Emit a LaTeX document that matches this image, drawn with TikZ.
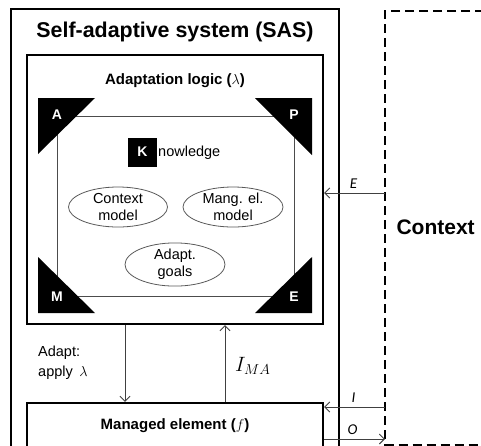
\documentclass[tikz,border=0pt]{standalone}
\usepackage{fontspec}
\setmainfont{Liberation Sans}
\newfontfamily\carlfont{Carlito}
\usetikzlibrary{arrows.meta,shapes.geometric}
\begin{document}
\begin{tikzpicture}[x=1pt,y=-1pt,
  thickbox/.style={draw, line width=2.3pt, inner sep=0pt},
  thinbox/.style={draw=black!70, line width=0.9pt, inner sep=0pt},
  ell/.style={draw=black!65, line width=0.8pt, ellipse, inner sep=0pt, align=center, font=\fontsize{14.5}{17}\selectfont},
  arr/.style={draw=black!75, line width=0.9pt, -{Straight Barb[length=5pt,width=10pt]}},
  tri/.style={fill=black},
  corner/.style={text=white, font=\fontsize{14}{16}\selectfont\bfseries},
  lbl/.style={font=\fontsize{15}{17}\selectfont\carlfont\itshape},
  ctxline/.style={draw, line width=2pt, dash pattern=on 9pt off 5pt}
]
\useasboundingbox (0,0) rectangle (481,445);
\clip (0,0) rectangle (481,445);

% outer SAS box
\node[thickbox, minimum width=328pt, minimum height=470pt] (sas) at (175,244) {};
\node (sastitle) at (175,32) {\fontsize{21.4}{25}\selectfont\bfseries Self-adaptive system (SAS)};

% adaptation logic
\node[thickbox, minimum width=296pt, minimum height=269pt] (al) at (175,189.5) {};
\node (altitle) at (175,81) {\fontsize{15}{18}\selectfont\bfseries Adaptation logic ($\lambda$)};

% inner rectangle
\node[thinbox, minimum width=237pt, minimum height=180pt] (inner) at (175.5,206) {};

% corner triangles
\fill[tri] (38,98) -- (95,98) -- (38,154) -- cycle;
\fill[tri] (312,98) -- (255,98) -- (312,155) -- cycle;
\fill[tri] (38,313) -- (38,257) -- (95,313) -- cycle;
\fill[tri] (312,313) -- (312,257) -- (255,313) -- cycle;
\node[corner] (la) at (57,115) {A};
\node[corner] (lp) at (294,115) {P};
\node[corner] (lm) at (57,297) {M};
\node[corner] (le) at (294,297) {E};

% knowledge
\node[fill=black, minimum size=29pt, inner sep=0pt, text=white, font=\fontsize{14}{16}\selectfont\bfseries] (k) at (142.5,152) {K};
\node[anchor=west, inner sep=0pt, font=\fontsize{14.5}{16}\selectfont] (know) at (158,153) {nowledge};

% ellipses
\node[ell, minimum width=99pt, minimum height=40pt] (cm) at (118,207) {Context\\model};
\node[ell, minimum width=100pt, minimum height=40pt] (mm) at (233,207) {Mang. el.\\model};
\node[ell, minimum width=100pt, minimum height=41pt] (ag) at (175,264.5) {Adapt.\\goals};

% managed element
\node[thickbox, minimum width=296pt, minimum height=90pt] (me) at (175,448) {};
\node (metitle) at (175,426) {\fontsize{15}{18}\selectfont\bfseries Managed element ($f$)};

% context
\draw[ctxline] (540,11) -- (385,11) -- (385,444.5) -- (540,444.5);
\coordinate (ctx) at (385,227);
\node[anchor=west, font=\fontsize{21}{25}\selectfont\bfseries] (ctxt) at (393,227) {Context};

% connectors
\coordinate (ey) at (0,193);
\coordinate (iy) at (0,407);
\coordinate (oy) at (0,439);
\coordinate (ax) at (125,0);
\coordinate (ix) at (225,0);
\draw[arr] (ctx |- ey) -- (al.east |- ey) node[lbl, midway, above=1pt, xshift=-1pt] {E};
\draw[arr] (ctx |- iy) -- (me.east |- iy) node[lbl, midway, above=1pt, xshift=-1pt] {I};
\draw[arr] (me.east |- oy) -- (ctx |- oy) node[lbl, midway, above=1pt, xshift=-2pt] {O};
\draw[arr] (al.south -| ax) -- (me.north -| ax);
\draw[arr] (me.north -| ix) -- (al.south -| ix);
\node[anchor=west, align=left, inner sep=0pt, font=\fontsize{14.5}{20}\selectfont] (adapt) at (38,363) {Adapt:\\apply \,$\lambda$};
\node[anchor=west, inner sep=0pt, font=\fontsize{21}{22}\selectfont] (ima) at (235,366) {$I_{MA}$};
\end{tikzpicture}
\end{document}
